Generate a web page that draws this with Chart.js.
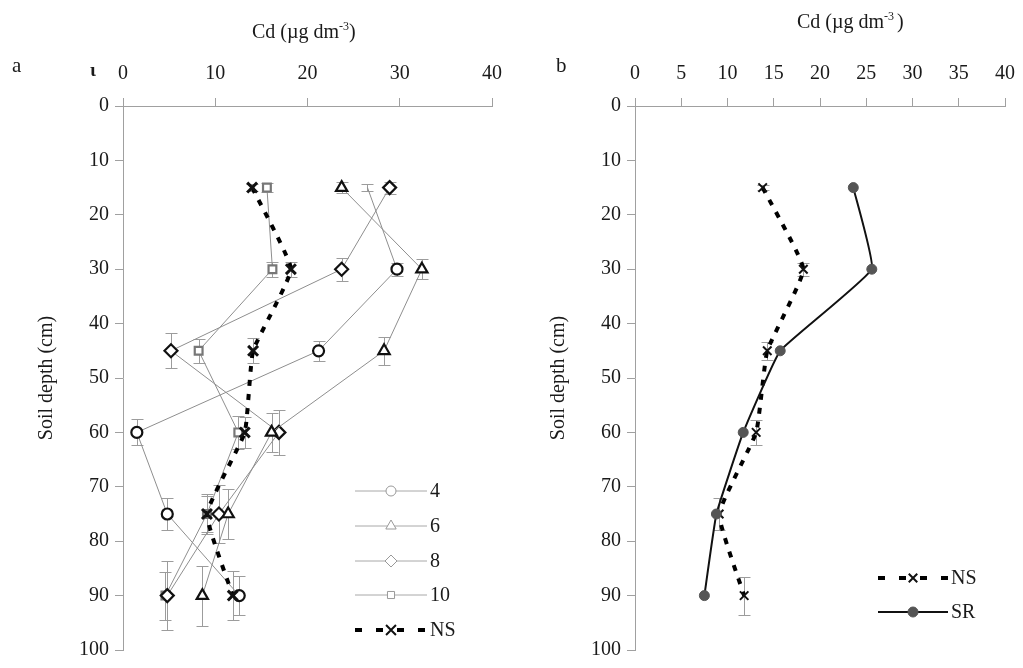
<!DOCTYPE html>
<html>
<head>
<meta charset="utf-8">
<script src="https://cdn.jsdelivr.net/npm/chart.js@4.4.1/dist/chart.umd.min.js"></script>
<style>
body { margin: 0; background: #fff; width: 1023px; height: 668px; overflow: hidden; position: relative; font-family: "Liberation Serif", serif; color: #1a1a1a; }
.box { position: absolute; top: 0; height: 668px; }
#boxA { left: 0; width: 514px; }
#boxB { left: 512px; width: 515px; }
.txt { position: absolute; white-space: nowrap; line-height: 1; }
</style>
</head>
<body>
<div class="box" id="boxA"><canvas id="chartA"></canvas></div>
<div class="box" id="boxB"><canvas id="chartB"></canvas></div>
<div class="txt" style="left:12px;top:55px;font-size:21px">a</div>
<div class="txt" style="left:90px;top:60px;font-size:19px;font-weight:bold">ι</div>
<div class="txt" style="left:252px;top:20px;font-size:20px">Cd (µg dm<sup style="font-size:12px">-3</sup>)</div>
<div class="txt" style="left:556px;top:55px;font-size:21px">b</div>
<div class="txt" style="left:797px;top:10px;font-size:20px">Cd (µg dm<sup style="font-size:12px">-3 </sup>)</div>
<script>
// soil depth of each sample (cm)
const depths = [15, 30, 45, 60, 75, 90];

// panel a: Cd per treatment
const cd4 = [26.5, 29.7, 21.2, 1.5, 4.8, 12.6];
const cd6 = [23.7, 32.4, 28.3, 16.1, 11.4, 8.6];
const cd8 = [28.9, 23.7, 5.2, 16.9, 10.4, 4.8];
const cd10 = [15.6, 16.2, 8.2, 12.5, 9.1, 4.6];
const nsA = [14.0, 18.2, 14.1, 13.2, 9.1, 11.9];

// half error bar (in cm of depth)
const err4 = [0.6, 1.2, 1.8, 2.4, 2.9, 3.6];
const err6 = [1.0, 1.8, 2.6, 3.6, 4.6, 5.5];
const err8 = [1.1, 2.1, 3.2, 4.1, 5.3, 6.4];
const err10 = [0.8, 1.4, 2.2, 3.1, 3.6, 4.4];
const errNsA = [0.6, 1.4, 2.3, 2.8, 3.4, 4.5];

// panel b
const nsB = [13.8, 18.2, 14.3, 13.1, 9.1, 11.8];
const srB = [23.6, 25.6, 15.7, 11.7, 8.8, 7.5];
const errNsB = [0.5, 1.2, 1.7, 2.3, 3.0, 3.5];

const xTicksA = [0, 10, 20, 30, 40];
const xTicksB = [0, 5, 10, 15, 20, 25, 30, 35, 40];
const yTicks = [0, 10, 20, 30, 40, 50, 60, 70, 80, 90, 100];

const toPoints = (vals) => vals.map((v, i) => ({ x: v, y: depths[i] }));
const FONT = { family: "'Liberation Serif', serif", size: 20 };
const AXIS = "#a0a0a0";

const errorBars = {
    id: "errorBars",
    beforeDatasetsDraw(chart) {
        const { ctx } = chart;
        const xs = chart.scales.x, ys = chart.scales.y;
        ctx.save();
        ctx.strokeStyle = "#9c9c9c";
        ctx.lineWidth = 1;
        chart.data.datasets.forEach((ds) => {
            if (!ds.errors) return;
            ds.data.forEach((p, i) => {
                const e = ds.errors[i];
                if (!e) return;
                const px = Math.round(xs.getPixelForValue(p.x)) + 0.5;
                const y1 = Math.round(ys.getPixelForValue(p.y - e)) + 0.5;
                const y2 = Math.round(ys.getPixelForValue(p.y + e)) + 0.5;
                ctx.beginPath();
                ctx.moveTo(px, y1); ctx.lineTo(px, y2);
                ctx.moveTo(px - 6, y1); ctx.lineTo(px + 6, y1);
                ctx.moveTo(px - 6, y2); ctx.lineTo(px + 6, y2);
                ctx.stroke();
            });
        });
        ctx.restore();
    }
};

// legend drawn inside the plot like the original
const sideLegend = {
    id: "sideLegend",
    afterDraw(chart, args, opts) {
        if (!opts.items) return;
        const ctx = chart.ctx;
        opts.items.forEach((it) => {
            const ds = chart.data.datasets[it.index];
            ctx.save();
            ctx.strokeStyle = it.lineColor || ds.borderColor;
            ctx.lineWidth = it.lineWidth || ds.borderWidth;
            ctx.setLineDash(it.dash || []);
            ctx.beginPath();
            ctx.moveTo(it.x, it.y);
            ctx.lineTo(it.x + opts.lineLen, it.y);
            ctx.stroke();
            ctx.setLineDash([]);
            ctx.strokeStyle = it.pointColor || ds.pointBorderColor;
            ctx.fillStyle = it.pointFill || ds.pointBackgroundColor;
            ctx.lineWidth = it.pointWidth || ds.pointBorderWidth;
            Chart.helpers.drawPoint(ctx, {
                pointStyle: ds.pointStyle,
                radius: it.radius,
                borderWidth: ctx.lineWidth,
                rotation: 0
            }, it.x + opts.lineLen / 2, it.y);
            ctx.fillStyle = "#1a1a1a";
            ctx.font = "20px 'Liberation Serif', serif";
            ctx.textBaseline = "middle";
            ctx.fillText(ds.label, it.x + opts.lineLen + 3, it.y + 1);
            ctx.restore();
        });
    }
};

function makeScales(xTicks, xStep) {
    return {
        x: {
            type: "linear",
            position: "top",
            min: xTicks[0],
            max: xTicks[xTicks.length - 1],
            ticks: { stepSize: xStep, font: FONT, color: "#1a1a1a", padding: 12, maxRotation: 0 },
            grid: { drawOnChartArea: false, tickLength: 8, color: AXIS },
            border: { color: AXIS },
            afterFit: (s) => { s.height = 106; }
        },
        y: {
            type: "linear",
            reverse: true,
            min: yTicks[0],
            max: yTicks[yTicks.length - 1],
            ticks: { stepSize: 10, font: FONT, color: "#1a1a1a", padding: 6 },
            grid: { drawOnChartArea: false, tickLength: 8, color: AXIS },
            border: { color: AXIS },
            title: { display: true, text: "Soil depth (cm)", font: FONT, color: "#1a1a1a", padding: { top: 35, bottom: 0 } },
            afterFit: (s) => { s.width = 123; }
        }
    };
}

function thinSeries(label, vals, errs, style, radius, edge) {
    return {
        label,
        data: toPoints(vals),
        errors: errs,
        showLine: true,
        borderColor: "#8e8e8e",
        borderWidth: 1,
        pointStyle: style,
        pointRadius: radius,
        pointBorderWidth: 2.2,
        pointBorderColor: edge,
        pointBackgroundColor: "#ffffff"
    };
}

const series4 = thinSeries("4", cd4, err4, "circle", 5.5, "#111");
series4.pointRadius = [0, 5.5, 5.5, 5.5, 5.5, 5.5];

const nsStyle = {
    showLine: true,
    borderColor: "#000",
    borderWidth: 4,
    borderDash: [6, 8],
    tension: 0.12,
    pointStyle: "crossRot",
    pointRadius: 7,
    pointBorderWidth: 3,
    pointBorderColor: "#111",
    pointBackgroundColor: "#111"
};

new Chart(document.getElementById("chartA"), {
    type: "scatter",
    data: {
        datasets: [
            { label: "NS", data: toPoints(nsA), errors: errNsA, ...nsStyle },
            series4,
            thinSeries("6", cd6, err6, "triangle", 6.5, "#111"),
            thinSeries("8", cd8, err8, "rectRot", 6.5, "#111"),
            thinSeries("10", cd10, err10, "rect", 5.5, "#777")
        ]
    },
    options: {
        responsive: true,
        maintainAspectRatio: false,
        animation: false,
        layout: { padding: { left: 0, right: 14, top: 0, bottom: 12 } },
        scales: makeScales(xTicksA, 10),
        plugins: {
            legend: { display: false },
            tooltip: { enabled: false },
            sideLegend: {
                lineLen: 72,
                items: [
                    { index: 1, x: 355, y: 491, radius: 5, pointColor: "#999", pointWidth: 1, lineColor: "#a8a8a8" },
                    { index: 2, x: 355, y: 526, radius: 6, pointColor: "#999", pointWidth: 1, lineColor: "#a8a8a8" },
                    { index: 3, x: 355, y: 561, radius: 6, pointColor: "#999", pointWidth: 1, lineColor: "#a8a8a8" },
                    { index: 4, x: 355, y: 595, radius: 5, pointColor: "#999", pointWidth: 1, lineColor: "#a8a8a8" },
                    { index: 0, x: 355, y: 630, radius: 7, dash: [7, 14], pointWidth: 2 }
                ]
            }
        }
    },
    plugins: [errorBars, sideLegend]
});

new Chart(document.getElementById("chartB"), {
    type: "scatter",
    data: {
        datasets: [
            {
                label: "SR",
                data: toPoints(srB),
                showLine: true,
                borderColor: "#111",
                borderWidth: 2,
                tension: 0.1,
                pointStyle: "circle",
                pointRadius: 5,
                pointBorderWidth: 1,
                pointBorderColor: "#555",
                pointBackgroundColor: "#555"
            },
            { label: "NS", data: toPoints(nsB), errors: errNsB, ...nsStyle, pointBorderWidth: 2, pointRadius: 6 }
        ]
    },
    options: {
        responsive: true,
        maintainAspectRatio: false,
        animation: false,
        layout: { padding: { left: 0, right: 7, top: 0, bottom: 12 } },
        scales: makeScales(xTicksB, 5),
        plugins: {
            legend: { display: false },
            tooltip: { enabled: false },
            sideLegend: {
                lineLen: 70,
                items: [
                    { index: 1, x: 366, y: 578, radius: 6, dash: [7, 14], pointWidth: 2 },
                    { index: 0, x: 366, y: 612, radius: 5 }
                ]
            }
        }
    },
    plugins: [errorBars, sideLegend]
});
</script>
</body>
</html>
